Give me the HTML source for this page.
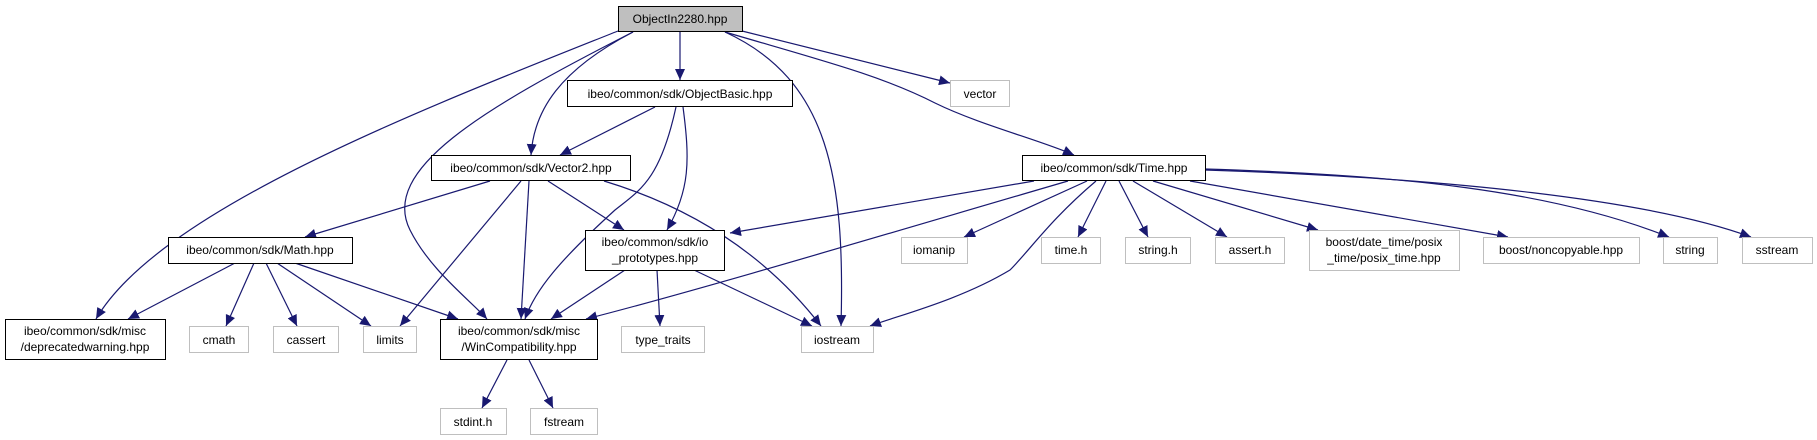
<!DOCTYPE html>
<html><head><meta charset="utf-8"><style>
html,body{margin:0;padding:0;background:#fff}
svg{display:block}
text{font-family:"Liberation Sans",sans-serif;font-size:12px;fill:#000}
</style></head><body>
<svg width="1817" height="440" viewBox="0 0 1817 440" xmlns="http://www.w3.org/2000/svg">
<defs>
<marker id="a" markerUnits="userSpaceOnUse" markerWidth="12" markerHeight="10" refX="11" refY="5" orient="auto">
<path d="M0,0 L11,5 L0,10 Z" fill="#191970"/>
</marker>
</defs>
<g fill="none" stroke="#191970" stroke-width="1.2" marker-end="url(#a)">
<path d="M618,31 C420,110 160,210 96,319"/>
<path d="M633,32 C480,110 380,170 410,230 C430,270 470,300 487,319"/>
<path d="M633,32 C560,70 534,110 531,155"/>
<path d="M680,31 L680,80"/>
<path d="M725,32 C830,80 845,180 841,326"/>
<path d="M742,31 L950,83"/>
<path d="M725,32 C820,60 880,75 935,103 C980,125 1040,140 1074,155"/>
<path d="M655,107 L560,155"/>
<path d="M676,107 C660,180 640,190 615,210 C560,260 535,290 525,319"/>
<path d="M683,107 C690,160 690,190 667,230"/>
<path d="M490,181 L305,237"/>
<path d="M521,181 L400,326"/>
<path d="M529,181 L521,319"/>
<path d="M548,181 L624,230"/>
<path d="M604,181 C700,210 770,260 821,326"/>
<path d="M235,263 L128,319"/>
<path d="M254,263 L226,326"/>
<path d="M266,263 L297,326"/>
<path d="M277,263 L371,326"/>
<path d="M295,263 L458,319"/>
<path d="M625,270 L551,319"/>
<path d="M657,270 L660,326"/>
<path d="M694,270 L812,326"/>
<path d="M507,360 L482,408"/>
<path d="M529,360 L553,408"/>
<path d="M1034,181 L730,233"/>
<path d="M1068,181 C900,230 700,290 586,319"/>
<path d="M1087,181 L964,237"/>
<path d="M1096,181 C1050,220 1030,250 1010,270 C960,300 900,315 870,326"/>
<path d="M1106,181 L1078,237"/>
<path d="M1119,181 L1148,237"/>
<path d="M1133,181 L1227,237"/>
<path d="M1153,181 L1318,230"/>
<path d="M1190,181 L1508,237"/>
<path d="M1205,169 C1400,175 1550,190 1669,237"/>
<path d="M1205,170 C1450,178 1650,200 1751,237"/>
</g>
<g stroke-width="1">
<rect x="618.5" y="6.5" width="124" height="25" fill="#bfbfbf" stroke="#000"/>
<rect x="567.5" y="80.5" width="225" height="26" fill="#fff" stroke="#000"/>
<rect x="431.5" y="155.5" width="199" height="25" fill="#fff" stroke="#000"/>
<rect x="1022.5" y="155.5" width="183" height="25" fill="#fff" stroke="#000"/>
<rect x="168.5" y="237.5" width="184" height="26" fill="#fff" stroke="#000"/>
<rect x="585.5" y="230.5" width="139" height="40" fill="#fff" stroke="#000"/>
<rect x="5.5" y="319.5" width="160" height="40" fill="#fff" stroke="#000"/>
<rect x="440.5" y="319.5" width="157" height="40" fill="#fff" stroke="#000"/>
</g>
<g fill="#fff" stroke="#bfbfbf" stroke-width="1">
<rect x="950.5" y="80.5" width="59" height="26"/>
<rect x="189.5" y="326.5" width="59" height="26"/>
<rect x="273.5" y="326.5" width="65" height="26"/>
<rect x="363.5" y="326.5" width="53" height="26"/>
<rect x="621.5" y="326.5" width="83" height="26"/>
<rect x="801.5" y="326.5" width="72" height="26"/>
<rect x="440.5" y="408.5" width="66" height="26"/>
<rect x="530.5" y="408.5" width="67" height="26"/>
<rect x="901.5" y="237.5" width="66" height="26"/>
<rect x="1041.5" y="237.5" width="59" height="26"/>
<rect x="1125.5" y="237.5" width="65" height="26"/>
<rect x="1215.5" y="237.5" width="69" height="26"/>
<rect x="1309.5" y="230.5" width="150" height="40"/>
<rect x="1483.5" y="237.5" width="156" height="26"/>
<rect x="1663.5" y="237.5" width="54" height="26"/>
<rect x="1742.5" y="237.5" width="70" height="26"/>
</g>
<g text-anchor="middle">
<text x="680" y="23">ObjectIn2280.hpp</text>
<text x="680" y="98">ibeo/common/sdk/ObjectBasic.hpp</text>
<text x="531" y="172">ibeo/common/sdk/Vector2.hpp</text>
<text x="1114" y="172">ibeo/common/sdk/Time.hpp</text>
<text x="260" y="254">ibeo/common/sdk/Math.hpp</text>
<text x="655" y="246">ibeo/common/sdk/io</text>
<text x="655" y="262">_prototypes.hpp</text>
<text x="85" y="335">ibeo/common/sdk/misc</text>
<text x="85" y="351">/deprecatedwarning.hpp</text>
<text x="519" y="335">ibeo/common/sdk/misc</text>
<text x="519" y="351">/WinCompatibility.hpp</text>
<text x="1384" y="246">boost/date_time/posix</text>
<text x="1384" y="262">_time/posix_time.hpp</text>
<text x="980" y="98">vector</text>
<text x="219" y="344">cmath</text>
<text x="306" y="344">cassert</text>
<text x="390" y="344">limits</text>
<text x="663" y="344">type_traits</text>
<text x="837" y="344">iostream</text>
<text x="473" y="426">stdint.h</text>
<text x="564" y="426">fstream</text>
<text x="934" y="254">iomanip</text>
<text x="1071" y="254">time.h</text>
<text x="1158" y="254">string.h</text>
<text x="1250" y="254">assert.h</text>
<text x="1561" y="254">boost/noncopyable.hpp</text>
<text x="1690" y="254">string</text>
<text x="1777" y="254">sstream</text>
</g>
</svg>
</body></html>
